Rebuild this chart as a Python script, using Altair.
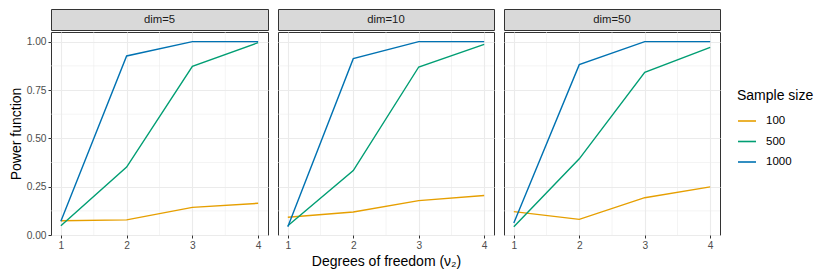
import altair as alt
import pandas as pd

nu = [1, 2, 3, 4]
sample_sizes = ["100", "500", "1000"]
dim_labels = ["dim=5", "dim=10", "dim=50"]
colors = ["#E69F00", "#009E73", "#0072B2"]

dim5_n100 = [0.074, 0.078, 0.143, 0.164]
dim5_n500 = [0.048, 0.351, 0.872, 0.995]
dim5_n1000 = [0.071, 0.926, 1.0, 1.0]
dim10_n100 = [0.092, 0.119, 0.178, 0.204]
dim10_n500 = [0.048, 0.333, 0.869, 0.986]
dim10_n1000 = [0.043, 0.912, 1.0, 1.0]
dim50_n100 = [0.121, 0.081, 0.193, 0.249]
dim50_n500 = [0.043, 0.394, 0.841, 0.970]
dim50_n1000 = [0.062, 0.881, 1.0, 1.0]

y_ticks = [0, 0.25, 0.5, 0.75, 1.0]
y_minor = [0.125, 0.375, 0.625, 0.875]
x_minor = [1.5, 2.5, 3.5]

series = {
    "dim=5": [dim5_n100, dim5_n500, dim5_n1000],
    "dim=10": [dim10_n100, dim10_n500, dim10_n1000],
    "dim=50": [dim50_n100, dim50_n500, dim50_n1000],
}
rows = []
for dl in dim_labels:
    for ss, vals in zip(sample_sizes, series[dl]):
        for x, v in zip(nu, vals):
            rows.append({"dim": dl, "n": ss, "nu": x, "power": v})
df = pd.DataFrame(rows)

FONT = "Liberation Sans"
GRID = "#EBEBEB"
PANEL_H = 203
STRIP_H = 21
widths = [217, 216, 216]

x_scale = alt.Scale(domain=[0.85, 4.15], nice=False, zero=False)
y_scale = alt.Scale(domain=[0, 1.05], nice=False, zero=False)
color_scale = alt.Scale(domain=sample_sizes, range=colors)


def panel(i, label, w):
    d = df[df["dim"] == label]
    x_axis_kw = dict(values=nu, format="d", grid=True, gridColor=GRID, gridWidth=1.1,
                     tickColor="#333333", tickSize=3, tickWidth=1, labelColor="#4D4D4D",
                     labelFontSize=10.2, labelFont=FONT, domain=False, labelPadding=2)
    if i == 1:
        x_axis_kw.update(title="Degrees of freedom (ν₂)", titleFontSize=14, titleFont=FONT,
                         titleFontWeight="normal", titleColor="#000000", titlePadding=4)
    else:
        x_axis_kw.update(title=None)
    y_axis_kw = dict(values=y_ticks, format=".2f", grid=True, gridColor=GRID, gridWidth=1.1,
                     domain=False)
    if i == 0:
        y_axis_kw.update(title="Power function", titleFontSize=14, titleFont=FONT,
                         titleFontWeight="normal", titleColor="#000000", titlePadding=3,
                         tickColor="#333333", tickSize=3, tickWidth=1, labelColor="#4D4D4D",
                         labelFontSize=10.2, labelFont=FONT, labelPadding=2)
    else:
        y_axis_kw.update(title=None, labels=False, ticks=False)

    x_axis = alt.Axis(**x_axis_kw)
    y_axis = alt.Axis(**y_axis_kw)

    minor_y = alt.Chart(pd.DataFrame({"nu": [2.0] * len(y_minor), "power": y_minor})).mark_rule(
        color=GRID, strokeWidth=0.55
    ).encode(
        y=alt.Y("power:Q", scale=y_scale, axis=y_axis),
        x=alt.value(0), x2=alt.value(w),
    )
    minor_x = alt.Chart(pd.DataFrame({"nu": x_minor, "power": [0.5] * len(x_minor)})).mark_rule(
        color=GRID, strokeWidth=0.55
    ).encode(
        x=alt.X("nu:Q", scale=x_scale, axis=x_axis),
        y=alt.value(0), y2=alt.value(PANEL_H),
    )

    color_kw = dict(scale=color_scale, sort=sample_sizes)
    if i == 0:
        color_kw["legend"] = alt.Legend(
            title="Sample size", orient="none", legendX=686, legendY=80,
            titleFontSize=14, titleFont=FONT, titleFontWeight="normal", titleColor="#000000",
            titlePadding=8, labelFontSize=11.5, labelFont=FONT, labelColor="#000000",
            symbolType="stroke", symbolSize=324, symbolStrokeWidth=1.6,
            rowPadding=4.5, labelOffset=9, padding=0,
        )
    else:
        color_kw["legend"] = None

    lines = alt.Chart(d).mark_line(strokeWidth=1.4).encode(
        x=alt.X("nu:Q", scale=x_scale, axis=x_axis),
        y=alt.Y("power:Q", scale=y_scale, axis=y_axis),
        color=alt.Color("n:N", **color_kw),
        detail="n:N",
    )
    body = alt.layer(minor_y, minor_x, lines).properties(width=w, height=PANEL_H)

    strip = alt.Chart(pd.DataFrame({"label": [label]})).mark_text(
        font=FONT, fontSize=11.3, color="#1A1A1A", baseline="middle", align="center"
    ).encode(
        x=alt.value(w / 2), y=alt.value(STRIP_H / 2 + 0.5), text="label:N"
    ).properties(width=w, height=STRIP_H,
                 view=alt.ViewBackground(fill="#D9D9D9", stroke="#333333", strokeWidth=1))
    return alt.vconcat(strip, body, spacing=0)


chart = alt.hconcat(
    *[panel(i, lab, w) for i, (lab, w) in enumerate(zip(dim_labels, widths))],
    spacing=8,
).resolve_scale(color="shared").properties(
    padding={"left": 0, "top": 0, "right": 0, "bottom": 0}
).configure(font=FONT).configure_view(
    stroke="#333333", strokeWidth=1, fill="white"
).configure_concat(spacing=8)

chart.save("out.html", embed_options={"renderer": "svg", "actions": False})
